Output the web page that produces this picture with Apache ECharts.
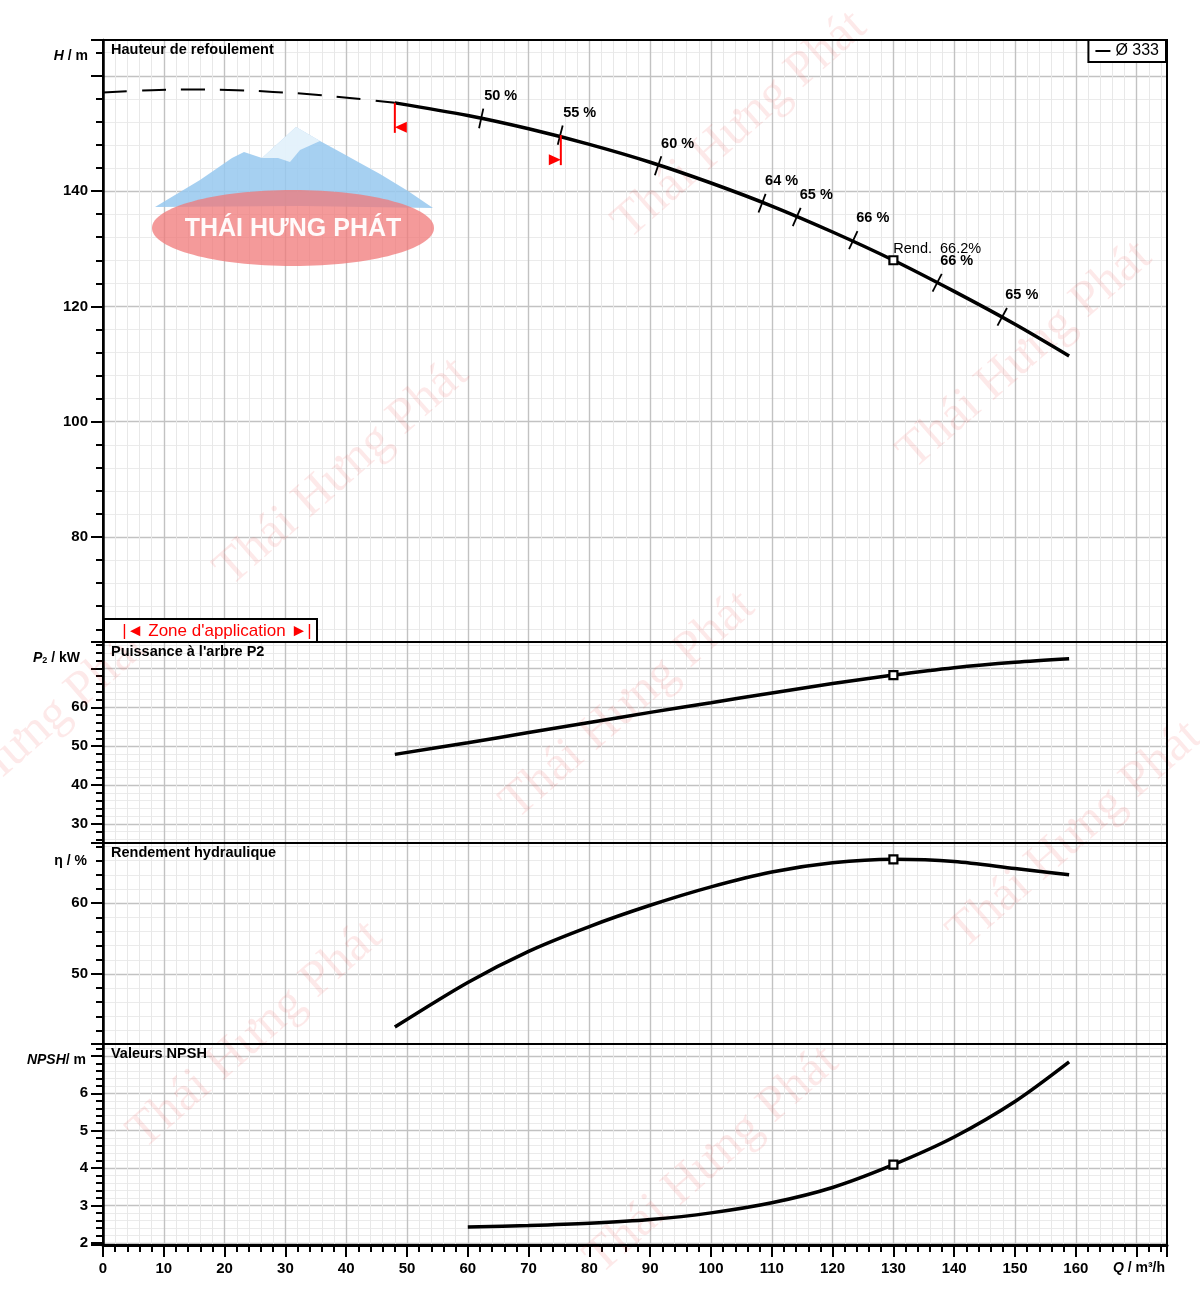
<!DOCTYPE html>
<html><head><meta charset="utf-8">
<script src="https://cdn.jsdelivr.net/npm/echarts@6/dist/echarts.min.js"></script>
<style>html,body{margin:0;padding:0;background:#fff}#c{width:1200px;height:1296px}</style>
</head><body><div id="c"></div>
<script>
// ---------- data ----------
const hDashQ = [0, 8, 15, 22, 28, 34, 41, 48];
const hDashH = [157.1, 157.5, 157.6, 157.5, 157.2, 156.8, 156.1, 155.3];
const hQ = [48, 60, 70, 80, 90, 100, 110, 120, 130, 140, 150, 158.9];
const hH = [155.3, 153.1, 150.8, 148.1, 145.0, 141.4, 137.4, 132.9, 128.0, 122.6, 116.9, 111.4];
const pQ = [48, 60, 70, 80, 90, 100, 110, 120, 130, 140, 150, 158.9];
const pP = [47.9, 50.9, 53.5, 56.1, 58.7, 61.2, 63.7, 66.1, 68.3, 70.2, 71.6, 72.5];
const etaQ = [48, 60, 70, 80, 90, 100, 110, 120, 130, 140, 150, 158.9];
const etaV = [42.5, 48.8, 53.2, 56.7, 59.7, 62.3, 64.4, 65.7, 66.2, 65.9, 64.9, 64.0];
const npshQ = [60, 70, 80, 90, 100, 110, 120, 130, 140, 150, 158.9];
const npshV = [2.42, 2.46, 2.52, 2.62, 2.80, 3.07, 3.48, 4.09, 4.83, 5.78, 6.84];
const effQ = [62.2, 75.2, 91.3, 108.4, 114.1, 123.4, 137.2, 147.9];
const effH = [152.6, 149.7, 144.4, 137.9, 135.5, 131.5, 124.1, 118.2];
const effLabel = ['50 %', '55 %', '60 %', '64 %', '65 %', '66 %', '66 %', '65 %'];
const zoneQ = [48, 75.3];
const zoneH = [155.3, 149.7];
const zoneDir = [1, -1];
const opQ = 130, opH = 128.0, opP = 68.3, opEta = 66.2, opNpsh = 4.09;
const opLabel = 'Rend.  66.2%';
const legendName = 'Ø 333';
const panelTitles = ['Hauteur de refoulement', "Puissance à l'arbre P2", 'Rendement hydraulique', 'Valeurs NPSH'];

// ---------- helpers ----------
const FONT = '"Liberation Sans", Arial, sans-serif';
const pairs = (xs, ys) => xs.map((x, i) => [x, ys[i]]);
const gridTops = [40, 642, 843, 1044];
const gridHeights = [602, 201, 201, 201];

function xAx(gi, bottom) {
  return {
    type: 'value', gridIndex: gi, min: 0, max: 175, interval: 10,
    name: bottom ? '{i|Q} / m³/h' : '', nameLocation: 'end', nameGap: -2,
    nameTextStyle: { align: 'right', verticalAlign: 'top', padding: [16, 0, 0, 0], fontSize: 14, fontWeight: 'bold', color: '#000', fontFamily: FONT,
      rich: { i: { fontStyle: 'italic', fontSize: 14, fontWeight: 'bold', color: '#000', fontFamily: FONT } } },
    axisLine: { show: bottom, onZero: false, lineStyle: { color: '#000', width: 3 } },
    axisTick: { show: bottom, length: 12, lineStyle: { color: '#000', width: 2 } },
    minorTick: { show: bottom, splitNumber: 5, length: 7, lineStyle: { color: '#000', width: 2 } },
    axisLabel: { show: bottom, margin: 16, fontSize: 15, fontWeight: 'bold', color: '#000', fontFamily: FONT,
      formatter: v => (v % 10 === 0 && v <= 160) ? String(v) : '' },
    splitLine: { show: true, showMinLine: false, showMaxLine: false, lineStyle: { color: '#c2c2c2', width: 1.4 } },
    minorSplitLine: { show: true, lineStyle: { color: '#e8e8e8', width: 1 } }
  };
}
function yAx(gi, min, max, step, name, hideFrom, gap, pad) {
  return {
    type: 'value', gridIndex: gi, min, max, minInterval: step, maxInterval: step,
    name, nameLocation: 'end', nameGap: gap,
    nameTextStyle: { align: 'right', verticalAlign: 'middle', padding: [0, pad, 0, 0], fontSize: 14, fontWeight: 'bold', color: '#000', fontFamily: FONT,
      rich: {
        i: { fontStyle: 'italic', fontSize: 14, fontWeight: 'bold', color: '#000', fontFamily: FONT },
        s: { fontSize: 9, fontWeight: 'bold', color: '#000', fontFamily: FONT, verticalAlign: 'bottom', padding: [6, 0, 0, 0] },
        n: { fontSize: 14, fontWeight: 'bold', color: '#000', fontFamily: FONT }
      } },
    axisLine: { show: true, onZero: false, lineStyle: { color: '#000', width: 2.5 } },
    axisTick: { show: true, length: 12, lineStyle: { color: '#000', width: 2 } },
    minorTick: { show: true, splitNumber: 5, length: 7, lineStyle: { color: '#000', width: 2 } },
    axisLabel: { margin: 15, fontSize: 15, fontWeight: 'bold', color: '#000', fontFamily: FONT,
      formatter: v => {
        const k = v / step;
        return (Math.abs(k - Math.round(k)) < 1e-6 && v < hideFrom) ? String(Math.round(v * 100) / 100) : '';
      } },
    splitLine: { show: true, showMinLine: false, showMaxLine: false, lineStyle: { color: '#c2c2c2', width: 1.4 } },
    minorSplitLine: { show: true, lineStyle: { color: '#ebebeb', width: 1 } }
  };
}
function curve(name, gi, xs, ys, extra) {
  return Object.assign({
    name, type: 'line', xAxisIndex: gi, yAxisIndex: gi, data: pairs(xs, ys),
    smooth: 0.3, symbol: 'none', lineStyle: { color: '#000', width: 3.5 }, itemStyle: { color: '#000' }, z: 5
  }, extra || {});
}
function opPoint(gi, y, label) {
  const s = {
    name: 'op' + gi, type: 'scatter', xAxisIndex: gi, yAxisIndex: gi, data: [[opQ, y]],
    symbol: 'rect', symbolSize: 8, itemStyle: { color: '#fff', borderColor: '#000', borderWidth: 2.2, opacity: 1 }, z: 8
  };
  if (label) s.label = { show: true, formatter: label, position: [5, -14], align: 'left', verticalAlign: 'top',
    fontSize: 14.5, color: '#000', fontFamily: FONT };
  return s;
}
function tangentAt(api, q) {
  let i = 0;
  while (i < hQ.length - 2 && q > hQ[i + 1]) i++;
  const a = api.coord([hQ[i], hH[i]]), b = api.coord([hQ[i + 1], hH[i + 1]]);
  const dx = b[0] - a[0], dy = b[1] - a[1], len = Math.hypot(dx, dy);
  return [dx / len, dy / len];
}

// ---------- decorations (watermark) ----------
const wm = [[740, 125], [342, 472], [1025, 355], [628, 705], [1075, 835], [255, 1035], [712, 1160], [20, 745]];
const graphics = wm.map(([x, y]) => ({
  type: 'text', x, y, rotation: 0.72, z: 1, silent: true,
  style: { text: 'Thái Hưng Phát', fill: 'rgba(235,70,70,0.12)', font: '50px "Liberation Serif", serif', align: 'center', verticalAlign: 'middle' }
}));
graphics.push({
  type: 'polygon', z: 1, silent: true,
  shape: { points: [[155, 207], [200, 180], [232, 158], [244, 152], [262, 158], [296, 127], [320, 141], [342, 153], [360, 163], [380, 174], [408, 191], [433, 208], [300, 206]] },
  style: { fill: 'rgba(150,200,238,0.85)' }
});
graphics.push({
  type: 'polygon', z: 1, silent: true,
  shape: { points: [[262, 158], [296, 127], [320, 141], [300, 150], [290, 162], [278, 158]] },
  style: { fill: 'rgba(235,245,252,0.9)' }
});
graphics.push({
  type: 'ellipse', z: 1, silent: true,
  shape: { cx: 293, cy: 228, rx: 141, ry: 38 },
  style: { fill: 'rgba(240,120,120,0.75)' }
});
graphics.push({
  type: 'text', x: 293, y: 229, z: 1, silent: true,
  style: { text: 'THÁI HƯNG PHÁT', fill: 'rgba(255,255,255,0.95)', font: 'bold 25px "Liberation Sans", Arial, sans-serif', align: 'center', verticalAlign: 'middle' }
});
// "Zone d'application" tag
graphics.push({
  type: 'rect', z: 6, shape: { x: 104, y: 619, width: 213, height: 23 },
  style: { fill: '#fff', stroke: '#000', lineWidth: 2 }
});
graphics.push({
  type: 'text', x: 217, y: 631, z: 7,
  style: { text: "|◄ Zone d'application ►|", fill: '#ff0000', font: '17px "Liberation Sans", Arial, sans-serif', align: 'center', verticalAlign: 'middle' }
});

const option = {
  animation: false,
  backgroundColor: '#fff',
  title: panelTitles.map((t, i) => ({
    text: t, left: 111, top: gridTops[i] + 2, padding: 0,
    textStyle: { fontSize: 14.5, fontWeight: 'bold', color: '#000', fontFamily: FONT, lineHeight: 16 }
  })),
  legend: {
    data: [{ name: legendName, icon: 'rect' }], right: 34, top: 40, orient: 'horizontal',
    padding: [3, 7], itemWidth: 15, itemHeight: 2, itemGap: 4,
    borderColor: '#000', borderWidth: 2, borderRadius: 0, backgroundColor: '#fff',
    textStyle: { fontSize: 16, color: '#000', fontFamily: FONT },
    selectedMode: false, z: 10
  },
  grid: gridTops.map((t, i) => ({
    left: 103, width: 1064, top: t, height: gridHeights[i], show: true, z: 3,
    borderColor: '#000', borderWidth: 2, borderType: 'solid', backgroundColor: 'transparent', containLabel: false, outerBoundsMode: 'none'
  })),
  xAxis: [xAx(0, false), xAx(1, false), xAx(2, false), xAx(3, true)],
  yAxis: [
    yAx(0, 61.8, 166.2, 20, '{i|H} / m', 160, -16, 15),
    yAx(1, 25.1, 76.8, 10, '{i|P}{s|2}{n| / kW}', 70, -16, 23),
    yAx(2, 40.1, 68.5, 10, 'η / %', 70, -18, 16),
    yAx(3, 1.94, 7.32, 1, '{i|NPSH}/ m', 7, -16, 17)
  ],
  graphic: graphics,
  series: [
    curve('H ext', 0, hDashQ, hDashH, { lineStyle: { color: '#000', width: 2, type: [24, 15] }, smooth: 0.4 }),
    curve(legendName, 0, hQ, hH),
    {
      name: 'eff', type: 'custom', xAxisIndex: 0, yAxisIndex: 0, data: pairs(effQ, effH), z: 7,
      renderItem: (params, api) => {
        const q = api.value(0), h = api.value(1);
        const p = api.coord([q, h]);
        const t = tangentAt(api, q);
        let n = [-t[1], t[0]];
        if (n[1] > 0) n = [-n[0], -n[1]];
        const L = 10;
        return { type: 'group', children: [
          { type: 'line', shape: { x1: p[0] - n[0] * L, y1: p[1] - n[1] * L, x2: p[0] + n[0] * L, y2: p[1] + n[1] * L },
            style: { stroke: '#000', lineWidth: 1.8 } },
          { type: 'text', x: p[0] + 3, y: p[1] - 22,
            style: { text: effLabel[params.dataIndex], fill: '#000', font: 'bold 14.5px "Liberation Sans", Arial, sans-serif', align: 'left', verticalAlign: 'middle' } }
        ] };
      }
    },
    {
      name: 'zone', type: 'custom', xAxisIndex: 0, yAxisIndex: 0,
      data: zoneQ.map((q, i) => [q, zoneH[i], zoneDir[i]]), z: 7,
      renderItem: (params, api) => {
        const p = api.coord([api.value(0), api.value(1)]);
        const d = api.value(2);
        return { type: 'group', children: [
          { type: 'line', shape: { x1: p[0], y1: p[1], x2: p[0], y2: p[1] + 30 }, style: { stroke: '#ff0000', lineWidth: 2 } },
          { type: 'polygon', shape: { points: [[p[0], p[1] + 24.5], [p[0] + d * 12, p[1] + 19], [p[0] + d * 12, p[1] + 30]] },
            style: { fill: '#ff0000' } }
        ] };
      }
    },
    opPoint(0, opH, opLabel),
    curve('P2', 1, pQ, pP),
    opPoint(1, opP),
    curve('eta', 2, etaQ, etaV),
    opPoint(2, opEta),
    curve('NPSH', 3, npshQ, npshV),
    opPoint(3, opNpsh)
  ]
};
const chart = echarts.init(document.getElementById('c'), null, { renderer: 'canvas' });
chart.setOption(option);
</script></body></html>
